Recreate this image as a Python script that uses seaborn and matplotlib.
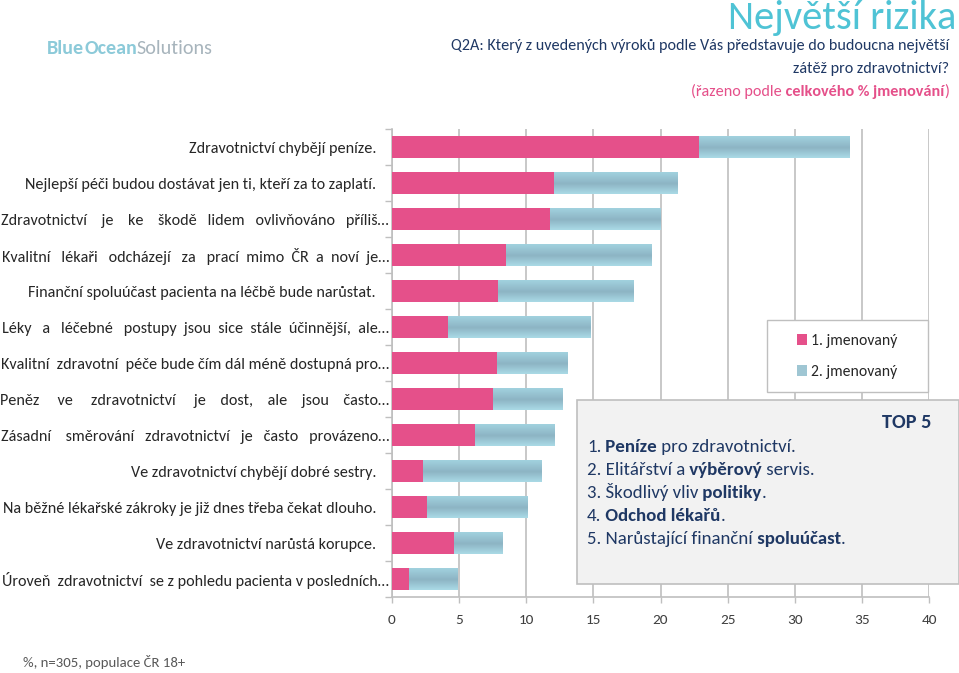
import numpy as np
import pandas as pd
import matplotlib
matplotlib.use("Agg")
import matplotlib.pyplot as plt
import matplotlib.transforms as mtransforms
import matplotlib.font_manager as fm
from matplotlib.patches import Rectangle, Patch
from matplotlib.colors import LinearSegmentedColormap
import seaborn as sns

# ---------------- data ----------------
categories = [
    "Zdravotnictví chybějí peníze.",
    "Nejlepší péči budou dostávat jen ti, kteří za to zaplatí.",
    "Zdravotnictví je ke škodě lidem ovlivňováno příliš…",
    "Kvalitní lékaři odcházejí za prací mimo ČR a noví je…",
    "Finanční spoluúčast pacienta na léčbě bude narůstat.",
    "Léky a léčebné postupy jsou sice stále účinnější, ale…",
    "Kvalitní zdravotní péče bude čím dál méně dostupná pro…",
    "Peněz ve zdravotnictví je dost, ale jsou často…",
    "Zásadní směrování zdravotnictví je často provázeno…",
    "Ve zdravotnictví chybějí dobré sestry.",
    "Na běžné lékařské zákroky je již dnes třeba čekat dlouho.",
    "Ve zdravotnictví narůstá korupce.",
    "Úroveň zdravotnictví se z pohledu pacienta v posledních…",
]
first_named = [22.9, 12.1, 11.8, 8.5, 7.9, 4.2, 7.8, 7.5, 6.2, 2.3, 2.6, 4.6, 1.3]
second_named = [11.2, 9.2, 8.2, 10.8, 10.1, 10.6, 5.3, 5.2, 5.9, 8.8, 7.5, 3.6, 3.6]
series_names = ["1. jmenovaný", "2. jmenovaný"]
x_ticks = [0, 5, 10, 15, 20, 25, 30, 35, 40]

title = "Největší rizika"
question_lines = [
    "Q2A: Který z uvedených výroků podle Vás představuje do budoucna největší",
    "zátěž pro zdravotnictví?",
]
sort_note = [("(řazeno podle", "normal"), (" celkového % jmenování", "bold"), (")", "normal")]
top5_title = "TOP 5"
top5_lines = [
    [("1.", "normal"), (" Peníze", "bold"), (" pro zdravotnictví.", "normal")],
    [("2. Elitářství a", "normal"), (" výběrový", "bold"), (" servis.", "normal")],
    [("3. Škodlivý vliv", "normal"), (" politiky", "bold"), (".", "normal")],
    [("4.", "normal"), (" Odchod lékařů", "bold"), (".", "normal")],
    [("5. Narůstající finanční", "normal"), (" spoluúčast", "bold"), (".", "normal")],
]
logo_parts = [("Blue", "bold"), ("Ocean", "bold"), ("Solutions", "normal")]
footer = "%, n=305, populace ČR 18+"

# ---------------- style ----------------
PINK = "#E5508A"
BLUE = "#9CC9D7"
NAVY = "#1F3864"
TEAL = "#4FC3D5"
GRID = "#BFBFBF"
LABEL = "#262626"

sns.set_theme(style="white")
families = []
for fam in ["Carlito", "Lato"]:
    try:
        fm.findfont(fm.FontProperties(family=fam), fallback_to_default=False)
        families.append(fam)
    except Exception:
        pass
plt.rcParams["font.family"] = families + ["DejaVu Sans"]

W, H = 959, 673
fig = plt.figure(figsize=(W / 100, H / 100), dpi=100)
fig.patch.set_facecolor("white")
renderer = fig.canvas.get_renderer()


def fx(x):
    return x / W


def fy(y):
    return 1 - y / H


def measure(s, size, weight="normal"):
    t = fig.text(0, 0, s, fontsize=size, fontweight=weight)
    w = t.get_window_extent(renderer).width
    t.remove()
    return w


def rich_width(pieces, size):
    return sum(measure(s, size, wt) for s, wt in pieces)


def fit(pieces, target, base=10.0):
    return base * target / rich_width(pieces, base)


def rich(x_px, y_px, pieces, size, colors, ha="left", zorder=3, tight=False):
    widths = [measure(s, size, wt) for s, wt in pieces]
    if tight:
        # correct piece joins using the joint width of neighbouring pieces
        for i in range(len(pieces) - 1):
            a, b = pieces[i][0], pieces[i + 1][0]
            wt = pieces[i][1]
            corr = measure(a, size, wt) + measure(b, size, wt) - measure(a + b, size, wt)
            widths[i] -= corr
    start = x_px if ha == "left" else x_px - sum(widths)
    for (s, wt), w, c in zip(pieces, widths, colors):
        fig.text(fx(start), fy(y_px), s, fontsize=size, fontweight=wt, color=c,
                 ha="left", va="baseline", zorder=zorder)
        start += w


def justify(label, size, target_px):
    words = label.split(" ")
    n = len(words) - 1
    w0 = measure(label, size)
    sp = measure("a  a", size) - measure("a a", size)
    extra = max(0, int(round((target_px - w0) / sp)))
    out = words[0]
    for i, wd in enumerate(words[1:]):
        k = 1 + extra // n + (1 if i < extra % n else 0)
        out += " " * k + wd
    return out


# ---------------- axes ----------------
ax = fig.add_axes([fx(392), fy(597), (929 - 392) / W, (597 - 129) / H])

df = pd.DataFrame({"Výrok": categories,
                   series_names[0]: first_named,
                   series_names[1]: second_named})
df["celkem"] = df[series_names[0]] + df[series_names[1]]

sns.barplot(data=df, x="celkem", y="Výrok", color=BLUE, width=0.62, saturation=1,
            errorbar=None, ax=ax, zorder=2, linewidth=0)
blue_patches = list(ax.patches)
sns.barplot(data=df, x=series_names[0], y="Výrok", color=PINK, width=0.62, saturation=1,
            errorbar=None, ax=ax, zorder=3, linewidth=0)

# light gradient on the blue part (as in the original Excel style)
grad = np.linspace(0, 1, 64).reshape(-1, 1)
cmap = LinearSegmentedColormap.from_list("bl", [(0, "#A3D4E1"), (0.55, "#8DB4C4"), (1, "#AADAE6")])
for p in blue_patches:
    x0, y0, w, h = p.get_x(), p.get_y(), p.get_width(), p.get_height()
    im = ax.imshow(grad, extent=(x0, x0 + w, y0 + h, y0), aspect="auto", cmap=cmap,
                   zorder=2.5, interpolation="bilinear")
    im.set_clip_path(p)

yticks = ax.get_yticks()
ax.set_xlim(0, 40)
ax.set_ylim(len(categories) - 0.5, -0.5)
ax.set_xticks(x_ticks)
ax.set_xticklabels([str(v) for v in x_ticks])
ax.set_xlabel("")
ax.set_ylabel("")
ax.xaxis.grid(True, color=GRID, lw=1.2)
ax.yaxis.grid(False)
ax.set_axisbelow(True)
for s in ["top", "right"]:
    ax.spines[s].set_visible(False)
for s in ["left", "bottom"]:
    ax.spines[s].set_color(GRID)
    ax.spines[s].set_linewidth(1.2)

ax.tick_params(axis="x", which="major", bottom=True, length=4, color=GRID, width=1,
               labelsize=11, labelcolor="#404040", pad=8)
ax.set_yticks([v - 0.5 for v in range(len(categories) + 1)], minor=True)
ax.tick_params(axis="y", which="minor", left=True, length=5, color=GRID, width=1)
ax.tick_params(axis="y", which="major", left=False, length=0)

# y labels: short ones right aligned, ellipsis ones justified to full width
lab_size = fit([(categories[1], "normal")], 352)
ax.set_yticks(yticks)
ax.set_yticklabels(["" if c.endswith("…") else c for c in categories])
ax.tick_params(axis="y", which="major", labelsize=lab_size, labelcolor=LABEL, pad=11.5)

trans = mtransforms.blended_transform_factory(fig.transFigure, ax.transData)
for yv, lab in zip(yticks, categories):
    if not lab.endswith("…"):
        continue
    ax.text(fx(389), yv, justify(lab, lab_size, 388), transform=trans, ha="right",
            va="center_baseline", fontsize=lab_size, color=LABEL, clip_on=False)

# ---------------- legend ----------------
leg_rect = Rectangle((fx(767), fy(392)), (928 - 767) / W, (392 - 320) / H,
                     transform=fig.transFigure, facecolor="white", edgecolor=GRID,
                     lw=1, clip_on=False, zorder=4)
ax.add_patch(leg_rect)
leg_size = fit([("1. jmenovaný", "normal")], 86)
handles = [Patch(facecolor=PINK, edgecolor="none"), Patch(facecolor="#9FC6D3", edgecolor="none")]
leg = ax.legend(handles, series_names, loc="center",
                bbox_to_anchor=(fx(847.5), fy(356.5)), bbox_transform=fig.transFigure,
                frameon=False, fontsize=leg_size, labelspacing=1.1,
                handlelength=0.65, handleheight=0.65, handletextpad=0.25, borderpad=0)
for t in leg.get_texts():
    t.set_color(LABEL)
leg.set_zorder(5)

# ---------------- TOP 5 box ----------------
box = Rectangle((fx(577), fy(584)), (959 - 577) / W, (584 - 400) / H,
                transform=fig.transFigure, facecolor="#F2F2F2", edgecolor=GRID,
                lw=1.2, zorder=2)
fig.add_artist(box)
t5_size = fit([(top5_title, "bold")], 50)
rich(931, 428, [(top5_title, "bold")], t5_size, [NAVY], ha="right")
line_size = fit(top5_lines[4], 260)
for i, pieces in enumerate(top5_lines):
    rich(587, 452 + i * 23, pieces, line_size, [NAVY] * len(pieces))

# ---------------- header ----------------
title_size = fit([(title, "normal")], 230)
rich(956, 29, [(title, "normal")], title_size, [TEAL], ha="right")
q_size = fit([(question_lines[0], "normal")], 499)
rich(949, 50, [(question_lines[0], "normal")], q_size, [NAVY], ha="right")
rich(949, 73, [(question_lines[1], "normal")], q_size, [NAVY], ha="right")
rich(949, 96, sort_note, q_size, [PINK] * 3, ha="right")

logo_size = fit(logo_parts, 166)
rich(47, 54, logo_parts, logo_size, ["#8CCAD9", "#8CCAD9", "#A7B4BC"], tight=True)

foot_size = fit([(footer, "normal")], 163)
rich(23, 667, [(footer, "normal")], foot_size, ["#595959"])

fig.savefig("out.png", dpi=100, facecolor="white")
